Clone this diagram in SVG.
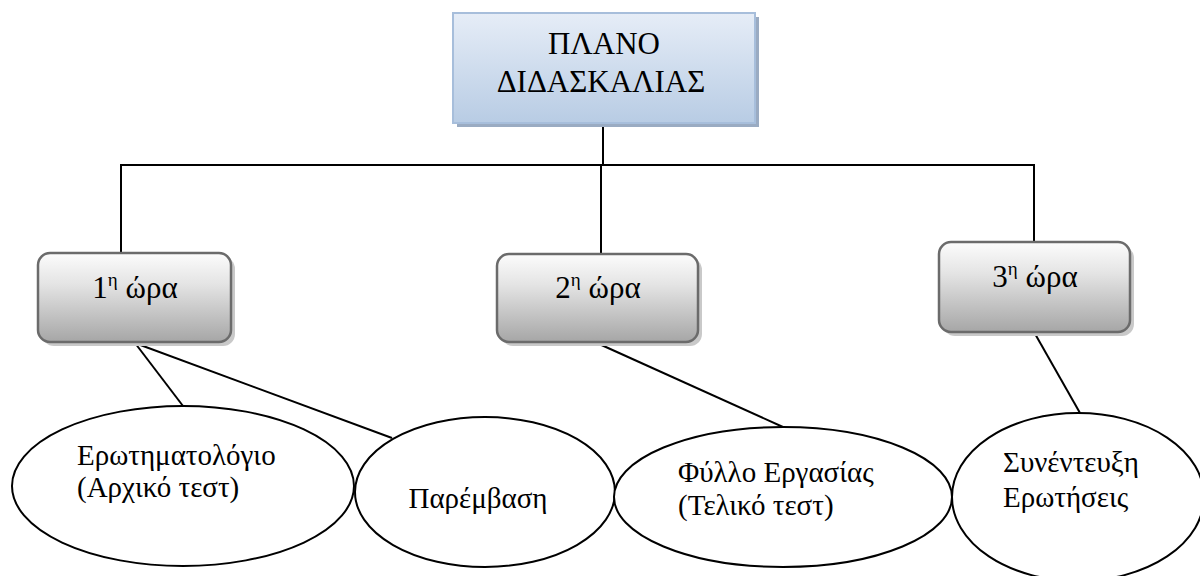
<svg xmlns="http://www.w3.org/2000/svg" width="1200" height="576" viewBox="0 0 1200 576">
<defs>
<linearGradient id="gBlue" x1="0" y1="0" x2="0" y2="1">
<stop offset="0" stop-color="#e6edf7"/>
<stop offset="1" stop-color="#b8cce4"/>
</linearGradient>
<linearGradient id="gGray" x1="0" y1="0" x2="0" y2="1">
<stop offset="0" stop-color="#fcfcfc"/>
<stop offset="0.35" stop-color="#e4e4e4"/>
<stop offset="1" stop-color="#a6a6a6"/>
</linearGradient>
<style>
text{fill:#000;font-family:"Liberation Serif","Times New Roman","DejaVu Serif",serif;}
.big{font-size:31px;}
.mid{font-size:29px;}
.sup{font-size:19px;}
.conn{stroke:#000;stroke-width:2;fill:none;}
.ell{fill:#fff;stroke:#000;stroke-width:2;}
.gbox{fill:url(#gGray);stroke:#6b6b6b;stroke-width:2.5;}
.gsh{fill:#c9c9c9;}
</style>
</defs>

<g id="connectors">
<polyline class="conn" points="603,123 603,165"/>
<polyline class="conn" points="121,253 121,165 1034,165 1034,242"/>
<polyline class="conn" points="601,165 601,254"/>
<line class="conn" x1="135" y1="343" x2="183" y2="406"/>
<line class="conn" x1="135" y1="343" x2="392" y2="438"/>
<line class="conn" x1="597" y1="343" x2="783" y2="427"/>
<line class="conn" x1="1034" y1="332" x2="1080" y2="413"/>
</g>

<g id="plan">
<rect x="457" y="17" width="302" height="110" fill="#9aabc2"/>
<rect x="453" y="13" width="302" height="110" fill="url(#gBlue)" stroke="#a7bedb" stroke-width="2"/>
<text class="big" x="604" y="54" text-anchor="middle">ΠΛΑΝΟ</text>
<text class="big" x="601" y="92" text-anchor="middle">ΔΙΔΑΣΚΑΛΙΑΣ</text>
</g>

<g id="hour1">
<rect class="gsh" x="42" y="257" width="193" height="89" rx="12"/>
<rect class="gbox" x="38" y="253" width="193" height="89" rx="12"/>
<text class="big" x="135" y="298" text-anchor="middle">1<tspan class="sup" dy="-12">η</tspan><tspan dy="12"> ώρα</tspan></text>
</g>

<g id="hour2">
<rect class="gsh" x="501" y="258" width="201" height="88" rx="12"/>
<rect class="gbox" x="497" y="254" width="201" height="88" rx="12"/>
<text class="big" x="598" y="298" text-anchor="middle">2<tspan class="sup" dy="-12">η</tspan><tspan dy="12"> ώρα</tspan></text>
</g>

<g id="hour3">
<rect class="gsh" x="943" y="246" width="191" height="90" rx="12"/>
<rect class="gbox" x="939" y="242" width="191" height="90" rx="12"/>
<text class="big" x="1035" y="287" text-anchor="middle">3<tspan class="sup" dy="-12">η</tspan><tspan dy="12"> ώρα</tspan></text>
</g>

<g id="questionnaire">
<ellipse class="ell" cx="183" cy="486" rx="171" ry="80"/>
<text class="mid" x="77" y="465">Ερωτηματολόγιο</text>
<text class="mid" x="77" y="497">(Αρχικό τεστ)</text>
</g>

<g id="intervention">
<ellipse class="ell" cx="485" cy="492" rx="130" ry="75"/>
<text class="mid" x="478" y="508" text-anchor="middle">Παρέμβαση</text>
</g>

<g id="worksheet">
<ellipse class="ell" cx="783" cy="497" rx="169" ry="70"/>
<text class="mid" x="678" y="482">Φύλλο Εργασίας</text>
<text class="mid" x="678" y="515">(Τελικό τεστ)</text>
</g>

<g id="interview">
<ellipse class="ell" cx="1078" cy="497" rx="126" ry="84"/>
<text class="mid" x="1003" y="472">Συνέντευξη</text>
<text class="mid" x="1003" y="507">Ερωτήσεις</text>
</g>
</svg>
